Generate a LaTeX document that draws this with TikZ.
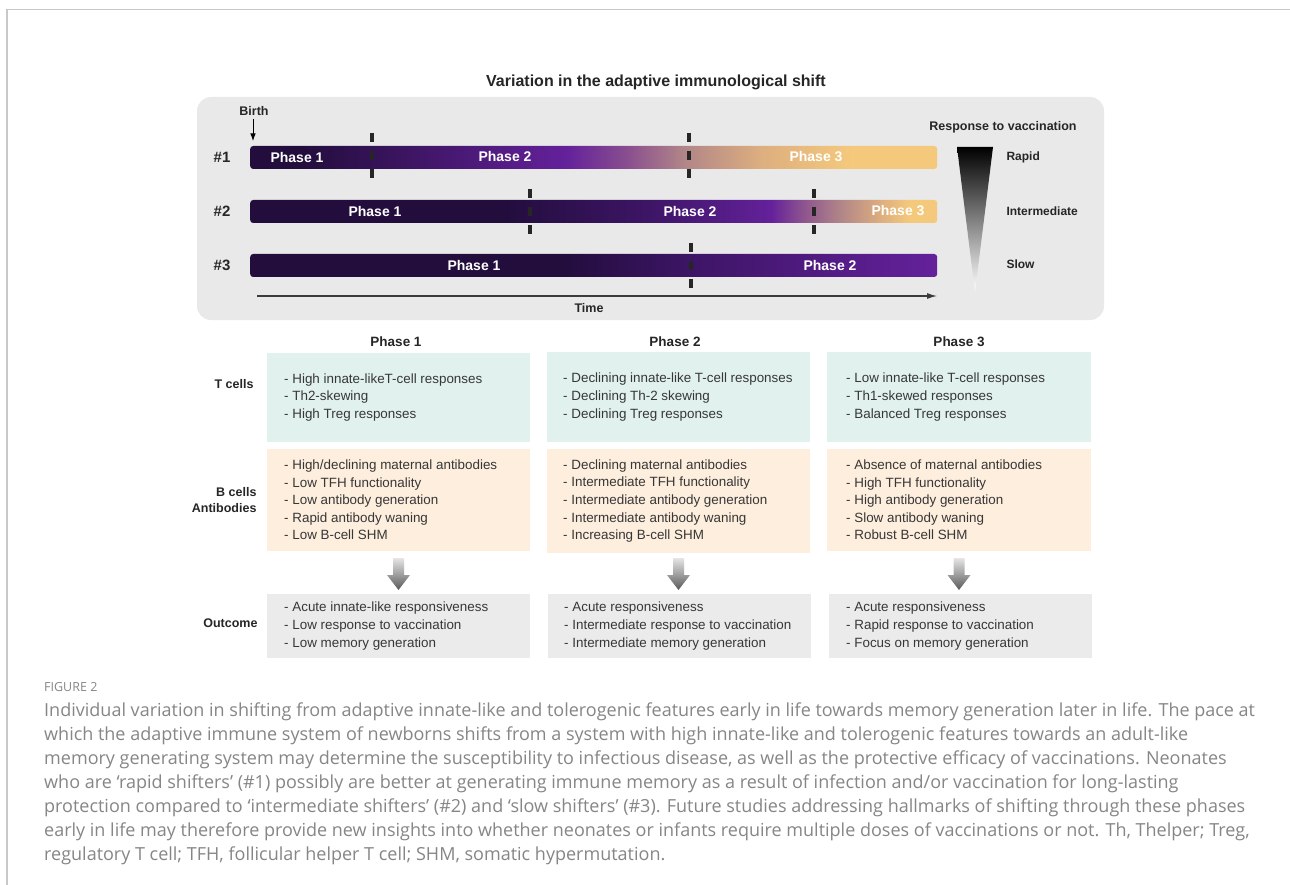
\documentclass[tikz,border=0pt]{standalone}
\usepackage{fontspec}
\setmainfont{Liberation Sans}
\newfontfamily\capfont{Open Sans}
\usetikzlibrary{arrows.meta,calc,positioning}

\definecolor{panelgray}{HTML}{E9E9E9}
\definecolor{framegray}{HTML}{C8C8C8}
\definecolor{inktext}{HTML}{262626}
\definecolor{captext}{HTML}{868686}
\definecolor{darkpurple}{HTML}{220D3C}
\definecolor{midpurple}{HTML}{3D1566}
\definecolor{brightpurple}{HTML}{64219B}
\definecolor{plum}{HTML}{8A4F8F}
\definecolor{mauve}{HTML}{B08588}
\definecolor{tanbar}{HTML}{DDAE7F}
\definecolor{sand}{HTML}{F4C97C}
\definecolor{tcellfill}{HTML}{E1F1EE}
\definecolor{bcellfill}{HTML}{FDEEDD}
\definecolor{outfill}{HTML}{EBEBEB}

% bar gradients, stops between 25bp and 75bp = x 250..937
\pgfdeclarehorizontalshading{barone}{100bp}{color(0bp)=(darkpurple); color(25bp)=(darkpurple);
  color(28.6bp)=(darkpurple); color(48bp)=(brightpurple); color(52.5bp)=(plum);
  color(56.5bp)=(mauve); color(62.1bp)=(tanbar); color(68.7bp)=(sand); color(100bp)=(sand)}
\pgfdeclarehorizontalshading{bartwo}{100bp}{color(0bp)=(darkpurple); color(25bp)=(darkpurple);
  color(43.2bp)=(darkpurple); color(54.1bp)=(midpurple); color(62.9bp)=(brightpurple);
  color(65bp)=(plum); color(67.9bp)=(mauve); color(70.9bp)=(tanbar); color(73bp)=(sand); color(100bp)=(sand)}
\pgfdeclarehorizontalshading{barthree}{100bp}{color(0bp)=(darkpurple); color(25bp)=(darkpurple);
  color(47.6bp)=(darkpurple); color(57.1bp)=(midpurple); color(75bp)=(brightpurple); color(100bp)=(brightpurple)}

\begin{document}
\begin{tikzpicture}[x=1pt,y=-1pt,>=Latex,
  every node/.style={text=inktext},
  hdr/.style={font=\bfseries\fontsize{13.5}{16}\selectfont},
  phaselbl/.style={text=white,font=\bfseries\fontsize{14}{16}\selectfont},
  rowlbl/.style={font=\bfseries\fontsize{12.5}{15.5}\selectfont,align=right,anchor=east},
  speedlbl/.style={font=\bfseries\fontsize{12}{14}\selectfont,anchor=west},
  bar/.style={shade,minimum width=687pt,minimum height=23pt,rounded corners=3pt,anchor=west,inner sep=0pt},
  tick/.style={line width=3.2pt,dash pattern=on 9pt off 9pt,inktext},
  cellbox/.style={anchor=north west,inner sep=0pt,outer sep=0pt},
  items/.style={font=\fontsize{13.4}{17.6}\selectfont,align=left,inner sep=0pt,anchor=west,text=inktext!92},
  downarrow/.style={top color=gray!20,bottom color=gray!70!black},
  capline/.style={font=\capfont\fontsize{18}{20}\selectfont,text=captext,anchor=base west,inner sep=0pt}]
  \useasboundingbox (0,0) rectangle (1290,885);
  \fill[white] (0,0) rectangle (1290,885);
  \draw[framegray,line width=1.4pt] (7,885) -- (7,9.5) -- (1290,9.5);

  \node[font=\bfseries\fontsize{16}{19}\selectfont] (title) at (656,82) {Variation in the adaptive immunological shift};
  \fill[panelgray,rounded corners=14pt] (197,97) rectangle (1104,320);

  % birth marker
  \node[font=\bfseries\fontsize{12.5}{15}\selectfont] (birth) at (254,111) {Birth};
  \coordinate (birthtip) at (253,141);
  \draw[->,line width=1pt] (birth.south -| birthtip) -- (birthtip);

  % three shifters
  \node[hdr,font=\bfseries\fontsize{15}{18}\selectfont] (row1) at (222,157) {\#1};
  \node[hdr,font=\bfseries\fontsize{15}{18}\selectfont] (row2) at (222,211) {\#2};
  \node[hdr,font=\bfseries\fontsize{15}{18}\selectfont] (row3) at (222,265) {\#3};
  \node[bar,shading=barone] (bar1) at (250,157.5) {};
  \node[bar,shading=bartwo] (bar2) at (250,211.5) {};
  \node[bar,shading=barthree] (bar3) at (250,265.5) {};
  \node[phaselbl] (b1p1) at (297,157) {Phase 1};
  \node[phaselbl] (b1p2) at (505,156) {Phase 2};
  \node[phaselbl] (b1p3) at (816,157) {Phase 3};
  \node[phaselbl] (b2p1) at (375,211) {Phase 1};
  \node[phaselbl] (b2p2) at (690,211) {Phase 2};
  \node[phaselbl] (b2p3) at (898,211) {Phase 3};
  \node[phaselbl] (b3p1) at (474,265) {Phase 1};
  \node[phaselbl] (b3p2) at (830,265) {Phase 2};
  \draw[tick] (372,133) -- (372,178);
  \draw[tick] (689,133) -- (689,178);
  \draw[tick] (530,189) -- (530,234);
  \draw[tick] (814,189) -- (814,234);
  \draw[tick] (691,243) -- (691,288);

  % time axis
  \coordinate (tstart) at (257,296);
  \coordinate (tend) at (937,296);
  \draw[-{Latex[length=10pt,width=6pt]},line width=1.1pt,inktext!90] (tstart) -- (tend);
  \node[font=\bfseries\fontsize{12.5}{15}\selectfont] (time) at (589,308) {Time};

  % response to vaccination
  \node[font=\bfseries\fontsize{12.5}{15}\selectfont] (resp) at (1003,127) {Response to vaccination};
  \shade[top color=black,bottom color=white] (957,147) -- (993,147) -- (975,292) -- cycle;
  \node[speedlbl] (rapid) at (1003,157) {Rapid};
  \node[speedlbl] (inter) at (1003,211) {Intermediate};
  \node[speedlbl] (slow) at (1003,264) {Slow};

  % phase table
  \node[hdr] (ph1) at (396,342) {Phase 1};
  \node[hdr] (ph2) at (675,342) {Phase 2};
  \node[hdr] (ph3) at (959,342) {Phase 3};

  \node[rowlbl] (trow) at (257,384) {T cells};
  \node[rowlbl] (brow) at (260,500) {B cells\\Antibodies};
  \node[rowlbl] (orow) at (261,623) {Outcome};

  \node[cellbox,fill=tcellfill,minimum width=263pt,minimum height=89pt] (tc1) at (267,353) {};
  \node[cellbox,fill=tcellfill,minimum width=263pt,minimum height=90pt] (tc2) at (547,352) {};
  \node[cellbox,fill=tcellfill,minimum width=264pt,minimum height=90pt] (tc3) at (827,352) {};
  \node[cellbox,fill=bcellfill,minimum width=263pt,minimum height=102pt] (bc1) at (267,449) {};
  \node[cellbox,fill=bcellfill,minimum width=263pt,minimum height=104pt] (bc2) at (547,449) {};
  \node[cellbox,fill=bcellfill,minimum width=264pt,minimum height=102pt] (bc3) at (827,449) {};
  \node[cellbox,fill=outfill,minimum width=263pt,minimum height=64pt] (oc1) at (267,594) {};
  \node[cellbox,fill=outfill,minimum width=263pt,minimum height=64pt] (oc2) at (548,594) {};
  \node[cellbox,fill=outfill,minimum width=263pt,minimum height=64pt] (oc3) at (829,594) {};

  \node[items,right=17pt of tc1.west] (tc1txt) {- High innate-likeT-cell responses\\- Th2-skewing\\- High Treg responses};
  \node[items,right=16pt of tc2.west] (tc2txt) {- Declining innate-like T-cell responses\\- Declining Th-2 skewing\\- Declining Treg responses};
  \node[items,right=19pt of tc3.west] (tc3txt) {- Low innate-like T-cell responses\\- Th1-skewed responses\\- Balanced Treg responses};
  \node[items,right=17pt of bc1.west] (bc1txt) {- High/declining maternal antibodies\\- Low TFH functionality\\- Low antibody generation\\- Rapid antibody waning\\- Low B-cell SHM};
  \node[items,right=16pt of bc2.west] (bc2txt) {- Declining maternal antibodies\\- Intermediate TFH functionality\\- Intermediate antibody generation\\- Intermediate antibody waning\\- Increasing B-cell SHM};
  \node[items,right=19pt of bc3.west] (bc3txt) {- Absence of maternal antibodies\\- High TFH functionality\\- High antibody generation\\- Slow antibody waning\\- Robust B-cell SHM};
  \node[items,right=17pt of oc1.west] (oc1txt) {- Acute innate-like responsiveness\\- Low response to vaccination\\- Low memory generation};
  \node[items,right=16pt of oc2.west] (oc2txt) {- Acute responsiveness\\- Intermediate response to vaccination\\- Intermediate memory generation};
  \node[items,right=17pt of oc3.west] (oc3txt) {- Acute responsiveness\\- Rapid response to vaccination\\- Focus on memory generation};

  % block arrows B cells -> outcome
  \foreach \c in {1,2,3}
    \shade[downarrow] ($(bc\c.south |- 0,558)+(-5.5,0)$) -- ++(11,0) -- ++(0,17) -- ++(6,0)
      -- ($(bc\c.south |- 0,590)$) -- ++(-11.5,-15) -- ++(6,0) -- cycle;

  % caption
  \node[capline,font=\capfont\fontsize{12.5}{14}\selectfont] (figlbl) at (44,691) {FIGURE 2};
  \node[capline] (cap1) at (44,716) {Individual variation in shifting from adaptive innate-like and tolerogenic features early in life towards memory generation later in life. The pace at};
  \node[capline] (cap2) at (44,740) {which the adaptive immune system of newborns shifts from a system with high innate-like and tolerogenic features towards an adult-like};
  \node[capline] (cap3) at (44,764) {memory generating system may determine the susceptibility to infectious disease, as well as the protective efficacy of vaccinations. Neonates};
  \node[capline] (cap4) at (44,788) {who are ‘rapid shifters’ (\#1) possibly are better at generating immune memory as a result of infection and/or vaccination for long-lasting};
  \node[capline] (cap5) at (44,812) {protection compared to ‘intermediate shifters’ (\#2) and ‘slow shifters’ (\#3). Future studies addressing hallmarks of shifting through these phases};
  \node[capline] (cap6) at (44,836) {early in life may therefore provide new insights into whether neonates or infants require multiple doses of vaccinations or not. Th, Thelper; Treg,};
  \node[capline] (cap7) at (44,860) {regulatory T cell; TFH, follicular helper T cell; SHM, somatic hypermutation.};
\end{tikzpicture}
\end{document}
